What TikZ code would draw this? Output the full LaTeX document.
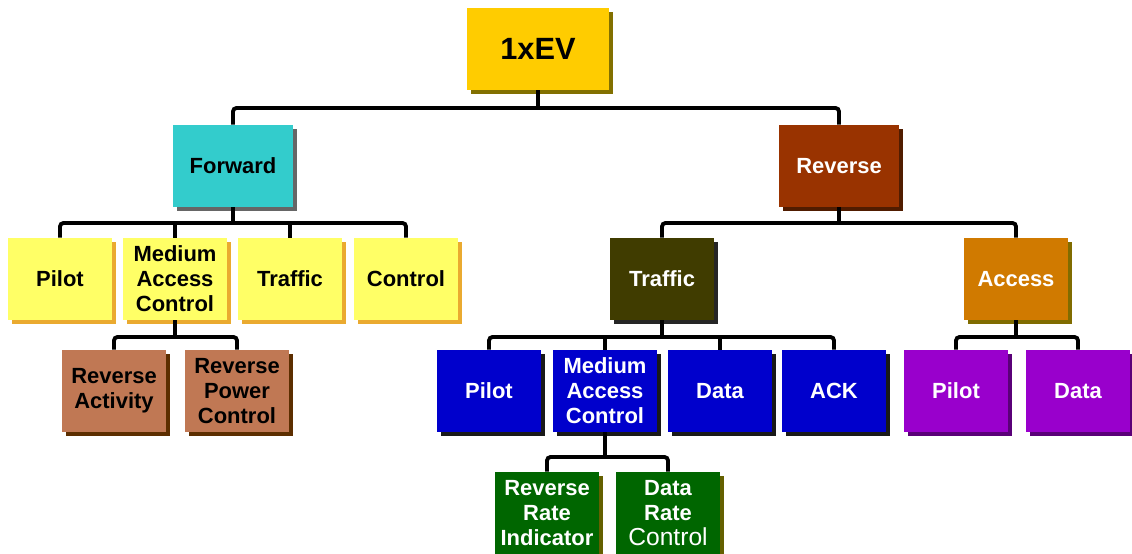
\documentclass[tikz,border=0pt]{standalone}
\usepackage{fontspec}
\setmainfont{Liberation Sans}
\usetikzlibrary{positioning,shadows}
\definecolor{EvGold}{RGB}{255,204,0}
\definecolor{EvGoldDark}{RGB}{130,112,0}
\definecolor{EvCyan}{RGB}{51,204,204}
\definecolor{EvRust}{RGB}{153,51,0}
\definecolor{EvRustDark}{RGB}{80,28,0}
\definecolor{EvYellow}{RGB}{255,255,102}
\definecolor{EvYellowDark}{RGB}{234,170,48}
\definecolor{EvClay}{RGB}{192,120,84}
\definecolor{EvClayDark}{RGB}{92,46,0}
\definecolor{EvOlive}{RGB}{64,60,0}
\definecolor{EvAmber}{RGB}{208,122,0}
\definecolor{EvAmberDark}{RGB}{128,108,0}
\definecolor{EvBlue}{RGB}{0,0,204}
\definecolor{EvPurple}{RGB}{153,0,204}
\definecolor{EvPurpleDark}{RGB}{90,0,120}
\definecolor{EvGreen}{RGB}{0,102,0}
\definecolor{EvGreenDark}{RGB}{100,96,0}
\tikzset{
  box/.style={rectangle, inner sep=1pt, align=center, minimum width=2.08cm,
    minimum height=1.64cm, font=\fontsize{12.5}{14.2}\selectfont\bfseries},
  shade/.style={drop shadow={shadow xshift=0.08cm, shadow yshift=-0.08cm,
    fill=#1, opacity=1}},
  rootbox/.style={box, fill=EvGold, shade=EvGoldDark, minimum width=2.84cm,
    font=\fontsize{17.5}{20}\selectfont\bfseries},
  fwdbox/.style={box, fill=EvCyan, shade=black!60, minimum width=2.4cm},
  revbox/.style={box, fill=EvRust, shade=EvRustDark, text=white, minimum width=2.4cm},
  yelbox/.style={box, fill=EvYellow, shade=EvYellowDark},
  claybox/.style={box, fill=EvClay, shade=EvClayDark},
  olivebox/.style={box, fill=EvOlive, shade=black!85, text=white},
  amberbox/.style={box, fill=EvAmber, shade=EvAmberDark, text=white},
  bluebox/.style={box, fill=EvBlue, shade=black!90, text=white},
  purpbox/.style={box, fill=EvPurple, shade=EvPurpleDark, text=white},
  grnbox/.style={box, fill=EvGreen, shade=EvGreenDark, text=white},
  link/.style={line width=2.2pt, draw=black, rounded corners=2pt}
}

\begin{document}
\begin{tikzpicture}[x=0.02cm, y=-0.02cm]
  \useasboundingbox (0,0) rectangle (1132,554);
  \node[rootbox] (root) at (538,49) {1xEV};
  \node[fwdbox] (fwd) at (233,166) {Forward};
  \node[revbox] (rev) at (839,166) {Reverse};

  \node[yelbox] (fpilot) at (60,279) {Pilot};
  \node[yelbox] (fmac) at (175,279) {Medium\\Access\\Control};
  \node[yelbox] (ftraf) at (290,279) {Traffic};
  \node[yelbox] (fctrl) at (406,279) {Control};
  \node[claybox] (fract) at (114,391) {Reverse\\Activity};
  \node[claybox] (frpc) at (237,391) {Reverse\\Power\\Control};

  \node[olivebox] (rtraf) at (662,279) {Traffic};
  \node[amberbox] (racc) at (1016,279) {Access};
  \node[bluebox] (tpilot) at (489,391) {Pilot};
  \node[bluebox] (tmac) at (605,391) {Medium\\Access\\Control};
  \node[bluebox] (tdata) at (720,391) {Data};
  \node[bluebox] (tack) at (834,391) {ACK};
  \node[purpbox] (apilot) at (956,391) {Pilot};
  \node[purpbox] (adata) at (1078,391) {Data};
  \node[grnbox] (rri) at (547,513) {Reverse\\Rate\\Indicator};
  \node[grnbox] (drc) at (668,513) {Data\\Rate\\{\mdseries\fontsize{14}{14.2}\selectfont Control}};

  \coordinate (hubroot) at (538,108);
  \coordinate (hubfwd) at (233,223);
  \coordinate (hubrev) at (839,223);
  \coordinate (hubfmac) at (175,337);
  \coordinate (hubtraf) at (662,337);
  \coordinate (hubacc) at (1016,337);
  \coordinate (hubtmac) at (605,457);

  \draw[link] (root.south) -- (hubroot);
  \draw[link] (fwd.north) |- (hubroot) -| (rev.north);
  \draw[link] (fwd.south) -- (hubfwd);
  \draw[link] (fpilot.north) |- (hubfwd) -| (fctrl.north);
  \draw[link] (fmac.north) -- (fmac.north |- hubfwd);
  \draw[link] (ftraf.north) -- (ftraf.north |- hubfwd);
  \draw[link] (fmac.south) -- (hubfmac);
  \draw[link] (fract.north) |- (hubfmac) -| (frpc.north);
  \draw[link] (rev.south) -- (hubrev);
  \draw[link] (rtraf.north) |- (hubrev) -| (racc.north);
  \draw[link] (rtraf.south) -- (hubtraf);
  \draw[link] (tpilot.north) |- (hubtraf) -| (tack.north);
  \draw[link] (tmac.north) -- (tmac.north |- hubtraf);
  \draw[link] (tdata.north) -- (tdata.north |- hubtraf);
  \draw[link] (racc.south) -- (hubacc);
  \draw[link] (apilot.north) |- (hubacc) -| (adata.north);
  \draw[link] (tmac.south) -- (hubtmac);
  \draw[link] (rri.north) |- (hubtmac) -| (drc.north);
\end{tikzpicture}
\end{document}
